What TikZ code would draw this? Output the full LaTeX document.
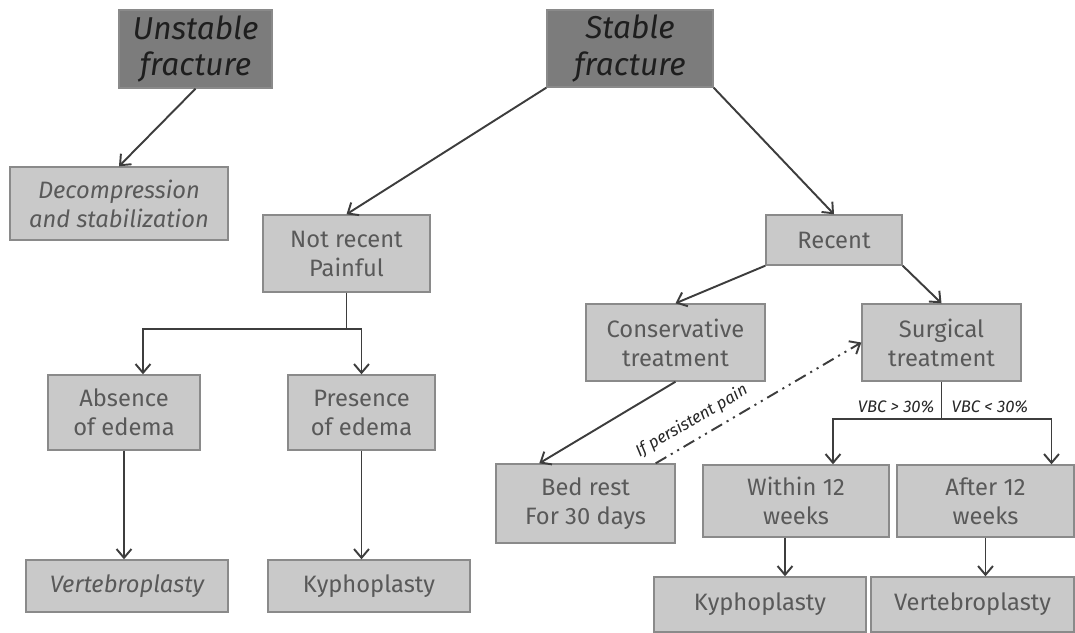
\documentclass[tikz,border=0pt]{standalone}
\usepackage{fontspec}
\setmainfont{Fira Sans}
\usepackage{tikz}
\usetikzlibrary{arrows.meta, calc, shadows}
\definecolor{boxFill}{HTML}{C9C9C9}
\definecolor{boxLine}{HTML}{8A8A8A}
\definecolor{boxText}{HTML}{595959}
\definecolor{headFill}{HTML}{7C7C7C}
\definecolor{headText}{HTML}{1E1E1E}
\definecolor{linkGray}{HTML}{3D3D3D}

\tikzset{
  box/.style={draw=boxLine, fill=boxFill, text=boxText, align=center,
    line width=0.8pt, inner sep=1pt, font=\fontsize{13.5}{16.5}\selectfont,
    drop shadow={shadow xshift=0.6pt, shadow yshift=-0.8pt, opacity=0.25}},
  itbox/.style={box, font=\fontsize{13.5}{16.5}\selectfont\itshape},
  headbox/.style={box, fill=headFill, text=headText,
    font=\fontsize{18}{21}\selectfont\itshape},
  link/.style={-{Straight Barb[length=5pt,width=8.5pt]}, draw=linkGray, line width=1.1pt},
  fork/.style={draw=linkGray, line width=1.1pt},
  tag/.style={font=\fontsize{9.5}{10}\selectfont\itshape, text=black!85, inner sep=1pt},
}

\begin{document}
\begin{tikzpicture}[x=0.2mm, y=-0.2mm]
    \useasboundingbox (0,0) rectangle (1075,633);
    % top row
    \node[headbox, minimum width=3.06cm, minimum height=1.56cm] (unstable) at (195.5,49) {Unstable\\fracture};
    \node[headbox, minimum width=3.32cm, minimum height=1.54cm] (stable) at (630,48.5) {Stable\\fracture};
    \node[itbox, minimum width=4.36cm, minimum height=1.46cm] (decomp) at (119,203.5) {Decompression\\and stabilization};
    % stable branch
    \node[box, minimum width=3.34cm, minimum height=1.54cm] (notrecent) at (346.5,253.5) {Not recent\\Painful};
    \node[box, minimum width=2.72cm, minimum height=1.0cm] (recent) at (834,240) {Recent};
    \node[box, minimum width=3.58cm, minimum height=1.54cm] (conserv) at (675.5,342.5) {Conservative\\treatment};
    \node[box, minimum width=3.18cm, minimum height=1.54cm] (surgical) at (941.5,342.5) {Surgical\\treatment};
    \node[box, minimum width=3.04cm, minimum height=1.5cm] (absence) at (124,412.5) {Absence\\of edema};
    \node[box, minimum width=2.94cm, minimum height=1.5cm] (presence) at (361.5,412.5) {Presence\\of edema};
    \node[itbox, minimum width=4.04cm, minimum height=1.04cm] (vertL) at (127,586) {Vertebroplasty};
    \node[box, minimum width=4.04cm, minimum height=1.04cm] (kyphL) at (369,586) {Kyphoplasty};
    \node[box, minimum width=3.58cm, minimum height=1.58cm] (bedrest) at (585.5,503.5) {Bed rest\\For 30 days};
    \node[box, minimum width=3.72cm, minimum height=1.44cm] (within) at (796,501) {Within 12\\weeks};
    \node[box, minimum width=3.54cm, minimum height=1.44cm] (after) at (985.5,501) {After 12\\weeks};
    \node[box, minimum width=4.24cm, minimum height=1.1cm] (kyphR) at (760,604.5) {Kyphoplasty};
    \node[box, minimum width=4.06cm, minimum height=1.1cm] (vertR) at (972.5,604.5) {Vertebroplasty};

    % connectors
    \draw[link] (unstable.south) -- (decomp.north);
    \draw[link] (stable.south west) -- (notrecent.north);
    \draw[link] (stable.south east) -- (recent.north);
    \draw[link] (recent.south west) -- (conserv.north);
    \draw[link] (recent.south east) -- (surgical.north);
    \draw[link] (conserv.south) -- ([xshift=0.88cm]bedrest.north west);
    \draw[link, dash pattern=on 7pt off 3pt on 1.2pt off 3pt on 1.2pt off 3pt]
        ([xshift=-0.4cm]bedrest.north east) -- (surgical.west)
        node[tag, pos=0.22, above=4pt, sloped] (painlbl) {If persistent pain};

    \coordinate (nfork) at ($(notrecent.south)+(-29.5,36)$);
    \draw[fork] (notrecent.south) -- (notrecent.south |- nfork);
    \draw[link] (notrecent.south |- nfork) -| ([xshift=0.38cm]absence.north);
    \draw[link] (notrecent.south |- nfork) -| (presence.north);
    \draw[link] (absence.south) -- (absence.south |- vertL.north);
    \draw[link] (presence.south) -- (presence.south |- kyphL.north);

    \coordinate (sfork) at ($(surgical.south)+(0,37)$);
    \draw[fork] (surgical.south) -- (sfork);
    \draw[link] (sfork) -| ([xshift=0.74cm]within.north);
    \draw[link] (sfork) -| ([xshift=1.32cm]after.north);
    \node[tag, anchor=south east] (vbcup) at ([shift={(-5,-4)}]sfork) {VBC > 30\%};
    \node[tag, anchor=south west] (vbclow) at ([shift={(8,-4)}]sfork) {VBC < 30\%};
    \draw[link] ([xshift=-0.22cm]within.south) -- ([xshift=-0.22cm]within.south |- kyphR.north);
    \draw[link] (after.south) -- (after.south |- vertR.north);
\end{tikzpicture}
\end{document}
